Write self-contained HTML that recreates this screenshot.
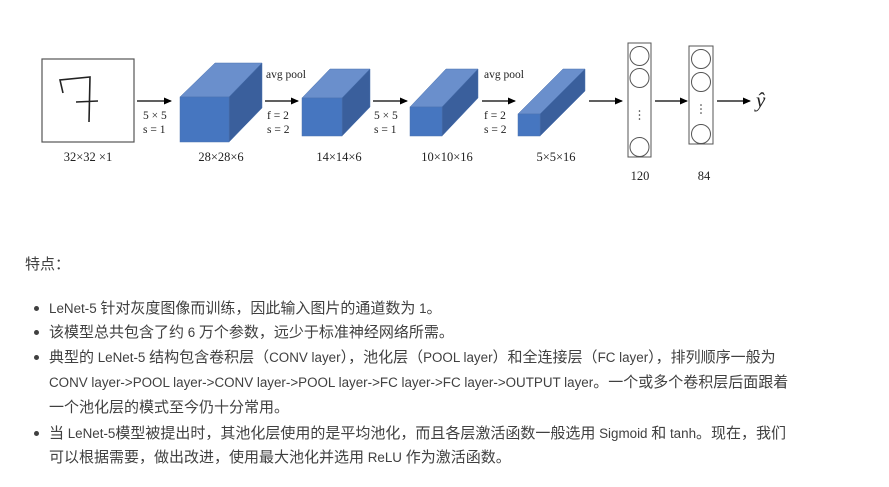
<!DOCTYPE html>
<html><head><meta charset="utf-8">
<style>
html,body{margin:0;padding:0;background:#fff;width:889px;height:487px;overflow:hidden;position:relative}
svg{position:absolute;left:0;top:0}
.t{position:absolute;font-family:"Liberation Sans","Noto Sans CJK SC",sans-serif;font-size:15px;color:#404040;white-space:nowrap;line-height:18px}
.l{font-size:13.4px}
.b{position:absolute;width:5px;height:5px;border-radius:50%;background:#404040;left:34px}
</style></head><body>
<svg width="889" height="200" viewBox="0 0 889 200" font-family="'Liberation Serif',serif" fill="#222">
<defs><marker id="a" markerWidth="8" markerHeight="8" refX="7" refY="4" orient="auto" markerUnits="userSpaceOnUse"><path d="M0,0.5 L8,4 L0,7.5z" fill="#000"/></marker></defs>
<rect x="42" y="59" width="92" height="83" fill="#fff" stroke="#555" stroke-width="1.2"/>
<path d="M63,93 L60,80 L90,77 L89,122 M76,102 L98,101" stroke="#222" stroke-width="1.6" fill="none"/>
<g stroke="#000" stroke-width="1.3" marker-end="url(#a)">
<line x1="137" y1="101" x2="171" y2="101"/><line x1="265" y1="101" x2="298" y2="101"/>
<line x1="373" y1="101" x2="407" y2="101"/><line x1="482" y1="101" x2="515" y2="101"/>
<line x1="589" y1="101" x2="622" y2="101"/><line x1="655" y1="101" x2="687" y2="101"/>
<line x1="717" y1="101" x2="750" y2="101"/></g>
<g stroke="#4a72b0" stroke-width="0.5">
<polygon points="180,97 215,63 262,63 229,97" fill="#6a8fcc"/><polygon points="229,97 262,63 262,108 229,142" fill="#3a5f9c"/><rect x="180" y="97" width="49" height="45" fill="#4676c0"/>
<polygon points="302,98 330,69 370,69 342,98" fill="#6a8fcc"/><polygon points="342,98 370,69 370,107 342,136" fill="#3a5f9c"/><rect x="302" y="98" width="40" height="38" fill="#4676c0"/>
<polygon points="410,107 446,69 478,69 442,107" fill="#6a8fcc"/><polygon points="442,107 478,69 478,98 442,136" fill="#3a5f9c"/><rect x="410" y="107" width="32" height="29" fill="#4676c0"/>
<polygon points="518,114 563,69 585,69 540,114" fill="#6a8fcc"/><polygon points="540,114 585,69 585,91 540,136" fill="#3a5f9c"/><rect x="518" y="114" width="22" height="22" fill="#4676c0"/>
</g>
<g font-size="11.5">
<text x="143" y="119">5 × 5</text><text x="143" y="133">s = 1</text>
<text x="266" y="78">avg pool</text><text x="267" y="119">f = 2</text><text x="267" y="133">s = 2</text>
<text x="374" y="119">5 × 5</text><text x="374" y="133">s = 1</text>
<text x="484" y="78">avg pool</text><text x="484" y="119">f = 2</text><text x="484" y="133">s = 2</text>
</g>
<g font-size="12.5" text-anchor="middle">
<text x="88" y="161">32×32 ×1</text><text x="221" y="161">28×28×6</text><text x="339" y="161">14×14×6</text>
<text x="447" y="161">10×10×16</text><text x="556" y="161">5×5×16</text><text x="640" y="180">120</text><text x="704" y="180">84</text>
</g>
<g fill="#fff" stroke="#555" stroke-width="1">
<rect x="628" y="43" width="23" height="114"/>
<circle cx="639.5" cy="56" r="9.5"/><circle cx="639.5" cy="78" r="9.5"/><circle cx="639.5" cy="147" r="9.5"/>
<rect x="689" y="46" width="24" height="98"/>
<circle cx="701" cy="59" r="9.5"/><circle cx="701" cy="82" r="9.5"/><circle cx="701" cy="134" r="9.5"/>
</g>
<g fill="#333"><circle cx="639.5" cy="111" r="0.8"/><circle cx="639.5" cy="115" r="0.8"/><circle cx="639.5" cy="119" r="0.8"/>
<circle cx="701" cy="105" r="0.8"/><circle cx="701" cy="109" r="0.8"/><circle cx="701" cy="113" r="0.8"/></g>
<text x="756" y="107" font-size="21" font-style="italic">ŷ</text>
</svg>
<div class="t" style="left:25px;top:256px">特点：</div>
<div class="b" style="top:306px"></div><div class="t" style="left:49px;top:300px"><span class="l">LeNet-5 </span>针对灰度图像而训练，因此输入图片的通道数为<span class="l"> 1</span>。</div>
<div class="b" style="top:330px"></div><div class="t" style="left:49px;top:324px">该模型总共包含了约<span class="l"> 6 </span>万个参数，远少于标准神经网络所需。</div>
<div class="b" style="top:355px"></div><div class="t" style="left:49px;top:349px">典型的<span class="l"> LeNet-5 </span>结构包含卷积层（<span class="l">CONV layer</span>），池化层（<span class="l">POOL layer</span>）和全连接层（<span class="l">FC layer</span>），排列顺序一般为</div>
<div class="t" style="left:49px;top:374px"><span class="l">CONV layer-&gt;POOL layer-&gt;CONV layer-&gt;POOL layer-&gt;FC layer-&gt;FC layer-&gt;OUTPUT layer</span>。一个或多个卷积层后面跟着</div>
<div class="t" style="left:49px;top:399px">一个池化层的模式至今仍十分常用。</div>
<div class="b" style="top:431px"></div><div class="t" style="left:49px;top:425px">当<span class="l"> LeNet-5</span>模型被提出时，其池化层使用的是平均池化，而且各层激活函数一般选用<span class="l"> Sigmoid </span>和<span class="l"> tanh</span>。现在，我们</div>
<div class="t" style="left:49px;top:449px">可以根据需要，做出改进，使用最大池化并选用<span class="l"> ReLU </span>作为激活函数。</div>
</body></html>
